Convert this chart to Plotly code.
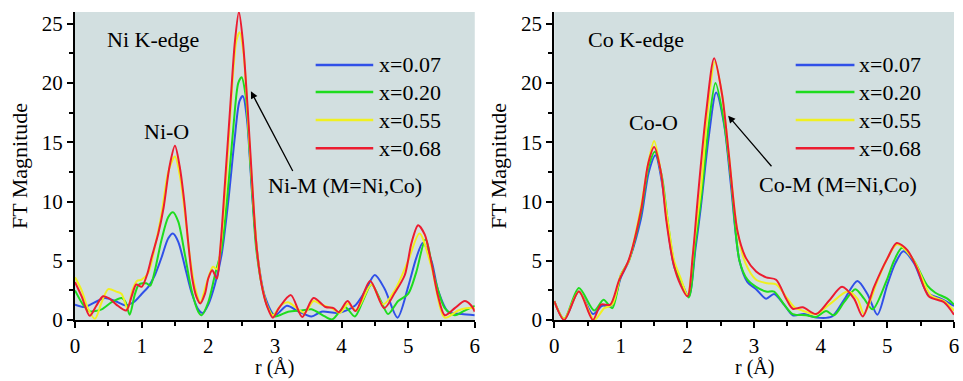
import plotly.graph_objects as go
from plotly.subplots import make_subplots

# ---------------- data ----------------
labels = ["x=0.07", "x=0.20", "x=0.55", "x=0.68"]
colors = ["#3050e8", "#1edc1e", "#f0f020", "#ec1c30"]

# Ni K-edge
ni_r_007 = [0, 0.15, 0.3, 0.45, 0.6, 0.75, 0.88, 1.0, 1.1, 1.2, 1.3, 1.4, 1.47, 1.55, 1.65, 1.75, 1.85, 1.92, 2.0, 2.1, 2.2, 2.3, 2.4, 2.47, 2.52, 2.58, 2.66, 2.75, 2.85, 3.0, 3.18, 3.36, 3.55, 3.7, 3.96, 4.2, 4.35, 4.5, 4.65, 4.84, 5.0, 5.12, 5.22, 5.35, 5.45, 5.6, 5.8, 6.0]
ni_v_007 = [1.3, 1.1, 1.5, 1.85, 1.6, 1.25, 1.5, 2.2, 2.8, 3.8, 5.3, 6.9, 7.3, 6.6, 4.5, 2.3, 0.9, 0.6, 1.3, 3.0, 5.5, 10, 15.5, 18.5, 18.9, 17, 10.5, 5, 2, 0.4, 1.2, 0.7, 0.3, 0.7, 0.6, 1.2, 2.4, 3.8, 2.6, 0.2, 2.8, 5.2, 6.5, 5.0, 2.5, 0.7, 0.5, 0.4]

ni_r_020 = [0, 0.12, 0.22, 0.4, 0.55, 0.7, 0.76, 0.82, 0.9, 0.96, 1.07, 1.13, 1.2, 1.3, 1.4, 1.47, 1.55, 1.65, 1.75, 1.85, 1.9, 2.0, 2.1, 2.2, 2.28, 2.38, 2.45, 2.5, 2.56, 2.64, 2.72, 2.82, 2.9, 3.0, 3.2, 3.4, 3.55, 3.75, 3.86, 4.05, 4.2, 4.32, 4.45, 4.6, 4.7, 4.85, 5.0, 5.12, 5.26, 5.4, 5.55, 5.7, 5.85, 6.0]
ni_v_020 = [2.5, 1.3, 0.75, 0.9, 1.5, 1.85, 1.5, 0.45, 2.2, 3.0, 3.1, 2.9, 4.2, 6.8, 8.7, 9.1, 8.3, 5.5, 2.5, 0.7, 0.4, 1.5, 3.8, 6.0, 10, 16.5, 20, 20.5, 19, 12.5, 6, 2.5, 1.0, 0.3, 0.7, 0.8, 0.9, 0.3, 0.05, 1.1, 0.3, 1.6, 3.0, 1.5, 0.5, 1.6, 2.2, 4.0, 6.8, 3.5, 1.0, 0.4, 0.8, 1.2]

ni_r_055 = [0, 0.1, 0.2, 0.3, 0.4, 0.5, 0.62, 0.7, 0.79, 0.86, 0.93, 1.0, 1.1, 1.2, 1.3, 1.4, 1.5, 1.58, 1.65, 1.72, 1.8, 1.88, 1.97, 2.07, 2.13, 2.2, 2.27, 2.35, 2.42, 2.47, 2.53, 2.6, 2.67, 2.74, 2.82, 2.9, 2.97, 3.1, 3.2, 3.35, 3.45, 3.58, 3.7, 3.85, 3.98, 4.1, 4.22, 4.45, 4.62, 4.8, 5.0, 5.17, 5.35, 5.55, 5.75, 5.87, 6.0]
ni_v_055 = [3.6, 2.5, 0.9, 0.1, 1.5, 2.6, 2.4, 2.2, 0.9, 2.5, 3.3, 3.4, 4.0, 6.2, 9, 12.5, 13.8, 12, 9, 5.5, 2.8, 1.5, 3.0, 4.5, 4.3, 7, 12, 19, 23.5, 24.3, 22.5, 16.5, 10.5, 5.5, 2.5, 1.0, 0.4, 1.3, 1.5, 0.9, 0.6, 1.6, 1.3, 1.0, 0.6, 1.4, 0.8, 3.0, 1.3, 2.5, 5.0, 7.3, 4.5, 0.2, 0.8, 1.0, 1.0]

ni_r_068 = [0, 0.1, 0.22, 0.32, 0.42, 0.52, 0.62, 0.77, 0.85, 0.92, 1.0, 1.08, 1.15, 1.25, 1.33, 1.42, 1.5, 1.57, 1.64, 1.7, 1.76, 1.82, 1.88, 1.95, 2.0, 2.06, 2.13, 2.18, 2.25, 2.33, 2.4, 2.46, 2.52, 2.59, 2.66, 2.72, 2.8, 2.88, 2.97, 3.06, 3.24, 3.41, 3.58, 3.76, 3.88, 3.96, 4.09, 4.21, 4.43, 4.64, 4.8, 4.95, 5.05, 5.15, 5.25, 5.35, 5.45, 5.55, 5.7, 5.85, 5.95, 6.0]
ni_v_068 = [3.2, 2.0, 0.35, 1.2, 2.0, 1.8, 1.3, 0.8, 2.0, 3.0, 2.8, 3.8, 5.3, 7.3, 9.5, 13, 14.7, 13, 10, 6.5, 3.5, 2.0, 1.4, 2.2, 3.5, 4.2, 3.5, 6, 11.5, 18, 23.5, 26, 23.5, 18, 11.5, 6.5, 3.0, 1.2, 0.2, 1.0, 2.1, 0.25, 1.85, 1.1, 1.0, 0.65, 1.6, 0.75, 3.3, 1.0, 2.3, 3.8, 6.5, 8.0, 7.2, 4.8, 2.0, 0.4, 1.0, 1.6, 1.2, 0.7]

# Co K-edge
co_r_007 = [0, 0.15, 0.37, 0.58, 0.72, 0.86, 1.0, 1.12, 1.3, 1.42, 1.52, 1.62, 1.7, 1.8, 1.9, 2.02, 2.12, 2.2, 2.32, 2.43, 2.55, 2.65, 2.78, 2.9, 3.03, 3.18, 3.3, 3.45, 3.58, 3.75, 3.93, 4.17, 4.35, 4.55, 4.7, 4.85, 5.0, 5.12, 5.24, 5.4, 5.6, 5.8, 6.0]
co_v_007 = [1.6, 0.05, 2.4, 0.5, 1.2, 1.2, 3.6, 5.0, 8.5, 12.5, 13.9, 11.5, 8, 4.5, 3.3, 2.0, 6, 9.5, 15.5, 19.2, 16.5, 11.5, 5.0, 3.2, 2.6, 1.8, 2.2, 1.3, 0.4, 0.5, 0.2, 0.3, 1.7, 3.3, 2.2, 0.45, 3.0, 4.8, 5.8, 4.8, 2.3, 1.8, 1.2]

co_r_020 = [0, 0.15, 0.37, 0.6, 0.74, 0.87, 1.0, 1.12, 1.3, 1.42, 1.51, 1.62, 1.7, 1.8, 1.9, 2.02, 2.12, 2.2, 2.32, 2.42, 2.54, 2.65, 2.78, 2.9, 3.03, 3.18, 3.3, 3.45, 3.58, 3.78, 3.93, 4.08, 4.2, 4.35, 4.52, 4.65, 4.78, 5.0, 5.1, 5.22, 5.4, 5.6, 5.72, 5.9, 6.0]
co_v_020 = [1.6, 0.1, 2.7, 0.8, 1.7, 1.0, 3.8, 5.0, 9, 13, 14.2, 12, 8.5, 4.8, 3.3, 1.9, 6.5, 10, 16.5, 20.0, 17, 12, 5.0, 3.4, 2.8, 2.4, 2.4, 1.3, 0.5, 0.4, 0.25, 0.75, 0.4, 1.5, 2.6, 1.8, 0.9, 3.5, 5.0, 6.1, 5.0, 2.9, 2.3, 1.8, 1.3]

co_r_055 = [0, 0.15, 0.37, 0.6, 0.75, 0.87, 1.0, 1.12, 1.3, 1.42, 1.5, 1.6, 1.7, 1.8, 1.9, 2.0, 2.1, 2.2, 2.31, 2.41, 2.52, 2.62, 2.75, 2.87, 3.03, 3.2, 3.33, 3.5, 3.6, 3.72, 3.93, 4.15, 4.4, 4.55, 4.65, 4.85, 5.0, 5.15, 5.4, 5.65, 5.85, 6.0]
co_v_055 = [1.6, 0.1, 2.4, 0.0, 1.0, 1.3, 3.8, 5.0, 9.5, 13.5, 15.1, 12.5, 8.5, 5.0, 3.5, 2.1, 6.5, 11, 18, 21.8, 19, 14, 7.5, 4.8, 3.4, 3.1, 3.0, 1.8, 1.1, 0.8, 0.5, 1.4, 2.4, 1.8, 0.5, 3.3, 5.2, 6.4, 5.0, 2.1, 1.6, 0.8]

co_r_068 = [0, 0.15, 0.37, 0.58, 0.7, 0.84, 0.97, 1.12, 1.3, 1.41, 1.5, 1.6, 1.68, 1.78, 1.87, 2.0, 2.08, 2.15, 2.28, 2.4, 2.52, 2.62, 2.75, 2.88, 3.03, 3.18, 3.33, 3.48, 3.58, 3.73, 3.93, 4.12, 4.32, 4.5, 4.63, 4.8, 5.0, 5.14, 5.3, 5.45, 5.62, 5.85, 6.0]
co_v_068 = [1.6, 0.0, 2.4, 0.0, 1.3, 1.3, 3.3, 5.1, 9.2, 13.2, 14.6, 12.5, 8.5, 5.0, 3.3, 2.0, 5.5, 10, 17.5, 22.1, 19, 14, 7.5, 5.2, 4.1, 3.6, 3.4, 1.8, 0.95, 1.07, 0.5, 1.6, 2.8, 1.8, 0.3, 2.8, 5.2, 6.5, 5.9, 4.3, 2.0, 1.5, 0.45]

ni_series = [(ni_r_007, ni_v_007), (ni_r_020, ni_v_020), (ni_r_055, ni_v_055), (ni_r_068, ni_v_068)]
co_series = [(co_r_007, co_v_007), (co_r_020, co_v_020), (co_r_055, co_v_055), (co_r_068, co_v_068)]

x_ticks = [0, 1, 2, 3, 4, 5, 6]
y_ticks = [0, 5, 10, 15, 20, 25]

FONT = "Liberation Serif, Times New Roman, serif"
FS = 22
TFS = 21
BG = "#d2dfe0"

fig = make_subplots(rows=1, cols=2, horizontal_spacing=0.0904)

for col, series in ((1, ni_series), (2, co_series)):
    for (r, v), name, c in zip(series, labels, colors):
        fig.add_trace(go.Scatter(x=r, y=v, mode="lines", name=name,
                                 line=dict(color=c, width=2, shape="spline", smoothing=0.8),
                                 showlegend=False), row=1, col=col)

axis_common = dict(showline=True, linecolor="black", linewidth=2, ticks="outside",
                   ticklen=6, tickwidth=1.5, tickcolor="black", showgrid=False, zeroline=False,
                   tickfont=dict(family=FONT, size=TFS, color="black"),
                   minor=dict(ticks="outside", ticklen=4, tickwidth=1.5, tickcolor="black", showgrid=False))

for col in (1, 2):
    fig.update_xaxes(range=[0, 6], tickvals=x_ticks, minor_dtick=0.5,
                     row=1, col=col, **axis_common)
    fig.update_yaxes(range=[0, 26], tickvals=y_ticks, minor_dtick=2.5,
                     title=dict(text="FT Magnitude", font=dict(family=FONT, size=FS, color="black"), standoff=8),
                     row=1, col=col, **axis_common)

shapes = []
annotations = []
legend_y = [0.828, 0.740, 0.649, 0.558]
for xd, yd, x0, x1, xt in (("x domain", "y domain", 0.602, 0.746, 0.755),
                           ("x2 domain", "y2 domain", 0.604, 0.751, 0.757)):
    for yy, name, c in zip(legend_y, labels, colors):
        shapes.append(dict(type="line", xref=xd, yref=yd, x0=x0, x1=x1, y0=yy, y1=yy,
                           line=dict(color=c, width=2.5)))
        annotations.append(dict(xref=xd, yref=yd, x=xt, y=yy, text=name, showarrow=False,
                                xanchor="left", yanchor="middle",
                                font=dict(family=FONT, size=FS, color="black")))
    # x-axis title, placed under the tick labels
    annotations.append(dict(xref=xd, yref=yd, x=0.5, y=-0.155, text="r (Å)", showarrow=False,
                            xanchor="center", yanchor="middle",
                            font=dict(family=FONT, size=20, color="black")))

def txt(xref, yref, x, y, s, anchor="left"):
    return dict(xref=xref, yref=yref, x=x, y=y, text=s, showarrow=False, xanchor=anchor,
                yanchor="middle", font=dict(family=FONT, size=FS, color="black"))

annotations += [
    txt("x", "y", 0.45, 23.7, "Ni K-edge"),
    txt("x", "y", 1.38, 15.95, "Ni-O", "center"),
    txt("x", "y", 2.87, 11.35, "Ni-M (M=Ni,Co)"),
    txt("x2", "y2", 0.48, 23.7, "Co K-edge"),
    txt("x2", "y2", 1.49, 16.7, "Co-O", "center"),
    txt("x2", "y2", 3.05, 11.4, "Co-M (M=Ni,Co)"),
    dict(xref="x", yref="y", axref="x", ayref="y", x=2.64, y=19.3, ax=3.28, ay=12.45,
         text="", showarrow=True, arrowhead=2, arrowsize=1.1, arrowwidth=1.3, arrowcolor="black"),
    dict(xref="x2", yref="y2", axref="x2", ayref="y2", x=2.61, y=17.25, ax=3.28, ay=12.85,
         text="", showarrow=True, arrowhead=2, arrowsize=1.1, arrowwidth=1.3, arrowcolor="black"),
]

fig.update_layout(width=963, height=381, margin=dict(l=75, r=4, t=12, b=61),
                  paper_bgcolor="white", plot_bgcolor=BG, showlegend=False,
                  font=dict(family=FONT, size=FS, color="black"),
                  shapes=shapes, annotations=annotations)

fig.write_html("out.html")
